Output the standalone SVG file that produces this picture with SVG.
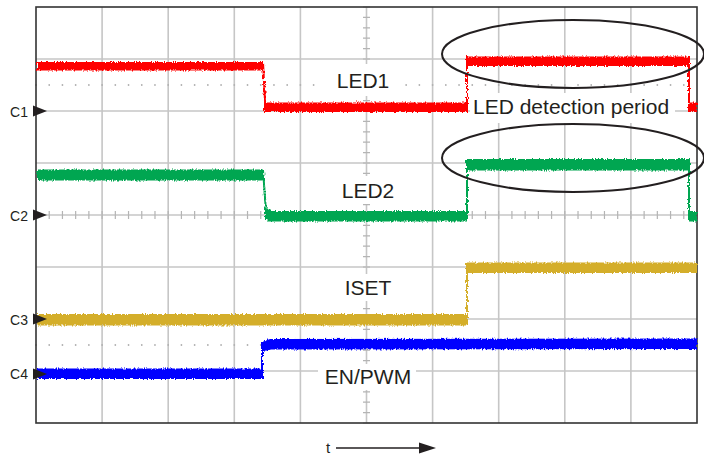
<svg xmlns="http://www.w3.org/2000/svg" width="704" height="460" viewBox="0 0 704 460">
<style>
.grid{stroke:#c6c6c6;stroke-width:1.6;fill:none}
.tick{stroke:#b4b4b4;fill:none}
.dots{stroke:#b0b0b0;stroke-width:1.8;stroke-linecap:round;stroke-dasharray:0 13.22;fill:none}
.frame{stroke:#333;stroke-width:1.6;fill:none}
.lbl{font-family:"Liberation Sans",Arial,sans-serif;font-size:21px;fill:#231f20}
.ch{font-family:"Liberation Sans",Arial,sans-serif;font-size:14px;fill:#231f20;text-anchor:end}
.bg{fill:#fff}
.edge{fill:none;stroke-width:2}
.ell{fill:none;stroke:#231f20;stroke-width:2}
.trace{filter:url(#noise)}
</style>
<defs>
  <filter id="noise" filterUnits="userSpaceOnUse" x="0" y="0" width="704" height="460">
    <feTurbulence type="fractalNoise" baseFrequency="0.9 0.35" numOctaves="2" seed="4" result="n"/>
    <feDisplacementMap in="SourceGraphic" in2="n" scale="4" xChannelSelector="A" yChannelSelector="R"/>
  </filter>
</defs>
<rect x="0" y="0" width="704" height="460" fill="#fff"/>
<g id="grid">
  <path class="grid" d="M102.1 7V423M168.2 7V423M234.3 7V423M300.4 7V423M432.6 7V423M498.7 7V423M564.8 7V423M630.9 7V423M36 59H697M36 111H697M36 163H697M36 267H697M36 319H697M36 371H697"/>
  <path class="grid" d="M366.5 7V423M36 215H697"/>
  <line class="tick" x1="366.5" y1="6.4" x2="366.5" y2="423.6" stroke-width="7" stroke-dasharray="1.2 9.2"/>
  <line class="tick" x1="35.4" y1="215" x2="697.6" y2="215" stroke-width="8" stroke-dasharray="1.2 12.02"/>
  <line class="dots" x1="36" y1="85" x2="697" y2="85"/>
  <line class="dots" x1="36" y1="345" x2="697" y2="345"/>
</g>
<g id="label-backgrounds">
  <rect class="bg" x="325" y="64" width="78" height="32"/>
  <rect class="bg" x="470" y="93" width="205" height="30"/>
  <rect class="bg" x="334" y="176" width="68" height="28"/>
  <rect class="bg" x="337" y="274" width="62" height="27"/>
  <rect class="bg" x="318" y="364" width="98" height="26"/>
</g>
<g id="frame">
  <rect class="frame" x="36" y="7" width="661" height="416"/>
</g>
<g id="trace-led1" class="trace" fill="#ff0000" stroke="#ff0000">
  <rect x="37" y="62" width="226" height="8.5" stroke="none"/>
  <path class="edge" d="M263 62L265.5 111"/>
  <rect x="264" y="102.5" width="203" height="9.5" stroke="none"/>
  <path class="edge" d="M467 112V56"/>
  <rect x="467" y="56.5" width="222" height="9.5" stroke="none"/>
  <path class="edge" d="M689 56V112"/>
  <rect x="689" y="102.5" width="8" height="9.5" stroke="none"/>
</g>
<g id="trace-led2" class="trace" fill="#00a651" stroke="#00a651">
  <rect x="37" y="169.5" width="226" height="11" stroke="none"/>
  <path class="edge" d="M263 170L266 212"/>
  <rect x="265" y="209.5" width="6" height="10" stroke="none"/>
  <rect x="268" y="211" width="199" height="10.5" stroke="none"/>
  <path class="edge" d="M467 221V160"/>
  <rect x="467" y="159" width="222" height="11.5" stroke="none"/>
  <path class="edge" d="M689 159V221"/>
  <rect x="689" y="211" width="8" height="10.5" stroke="none"/>
</g>
<g id="trace-iset" class="trace" fill="#d4ae2b" stroke="#d4ae2b">
  <rect x="37" y="314" width="430" height="11.5" stroke="none"/>
  <path class="edge" d="M467 325V263"/>
  <rect x="467" y="262.5" width="230" height="10.5" stroke="none"/>
</g>
<g id="trace-enpwm" class="trace" fill="#0000ff" stroke="#0000ff">
  <rect x="37" y="368.5" width="225" height="10.5" stroke="none"/>
  <path class="edge" d="M262 379V342"/>
  <polygon points="262,342 270,339 697,338.5 697,349 270,349.5 262,352" stroke="none"/>
</g>
<g id="channel-markers">
  <polygon points="33,105.5 47,111 33,116.5" fill="#231f20"/>
  <text class="ch" x="28" y="117">C1</text>
  <polygon points="33,209.5 47,215 33,220.5" fill="#231f20"/>
  <text class="ch" x="28" y="221">C2</text>
  <polygon points="33,313.5 47,319 33,324.5" fill="#231f20"/>
  <text class="ch" x="28" y="325">C3</text>
  <polygon points="33,368.5 47,374 33,379.5" fill="#231f20"/>
  <text class="ch" x="28" y="379">C4</text>
</g>
<g id="labels">
  <text class="lbl" x="363" y="88" text-anchor="middle">LED1</text>
  <text class="lbl" x="473" y="114">LED detection period</text>
  <text class="lbl" x="368" y="198" text-anchor="middle">LED2</text>
  <text class="lbl" x="368" y="295" text-anchor="middle">ISET</text>
  <text class="lbl" x="368" y="384" text-anchor="middle">EN/PWM</text>
</g>
<g id="highlights">
  <ellipse class="ell" cx="573" cy="54" rx="131" ry="34"/>
  <ellipse class="ell" cx="573" cy="158" rx="131" ry="34"/>
</g>
<g id="time-axis">
  <text x="326" y="453" font-family="Liberation Sans, Arial, sans-serif" font-size="15" fill="#231f20">t</text>
  <line x1="336" y1="448" x2="422" y2="448" stroke="#231f20" stroke-width="1.5"/>
  <polygon points="419,442.5 436,448 419,453.5" fill="#231f20"/>
</g>
</svg>
